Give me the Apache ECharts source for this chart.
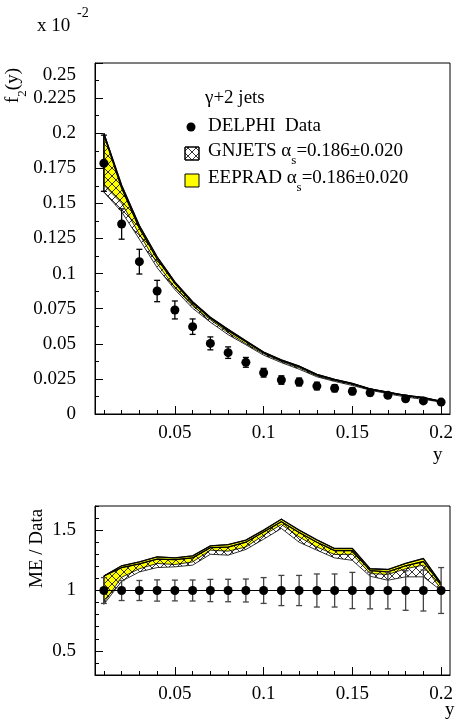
<!DOCTYPE html>
<html><head><meta charset="utf-8">
<script src="https://cdn.jsdelivr.net/npm/echarts@6/dist/echarts.min.js"></script>
<style>html,body{margin:0;padding:0;background:#fff}#c{width:456px;height:727px}</style>
</head><body><div id="c"></div>
<script>
// ---------- data ----------
const xs = [0.01,0.02,0.03,0.04,0.05,0.06,0.07,0.08,0.09,0.10,0.11,0.12,0.13,0.14,0.15,0.16,0.17,0.18,0.19,0.20];
// DELPHI data (units of 10^-2)
const dataVal = [0.1786,0.1353,0.1085,0.0876,0.0741,0.0622,0.0503,0.0437,0.0368,0.0294,0.0242,0.0228,0.0199,0.0183,0.0162,0.0152,0.0133,0.0109,0.0093,0.0085];
const dataErr = [0.0200,0.0108,0.0088,0.0076,0.0064,0.0055,0.0046,0.0041,0.0035,0.0031,0.0030,0.0028,0.0027,0.0025,0.0024,0.0023,0.0020,0.0018,0.0016,0.0016];
// EEPRAD band (top)
const eepradUp = [0.200,0.163,0.1342,0.1120,0.0941,0.0800,0.0689,0.0603,0.0521,0.0441,0.0385,0.0342,0.0283,0.0247,0.0218,0.0179,0.0156,0.0133,0.0118,0.0090];
const eepradLo = [0.163,0.1502,0.1280,0.1072,0.0900,0.0769,0.0671,0.0579,0.0500,0.0429,0.0374,0.0329,0.0271,0.0238,0.0211,0.0173,0.0151,0.0129,0.0113,0.0086];
// GNJETS band (top)
const gnjetsUp = [0.199,0.161,0.1324,0.1104,0.0930,0.0790,0.0682,0.0594,0.0515,0.0437,0.0380,0.0337,0.0279,0.0243,0.0215,0.0177,0.0154,0.0131,0.0115,0.0089];
const gnjetsLo = [0.158,0.1440,0.1245,0.1042,0.0886,0.0753,0.0654,0.0565,0.0493,0.0419,0.0366,0.0319,0.0265,0.0232,0.0203,0.0170,0.0144,0.0121,0.0104,0.0085];
// ratio panel
const ratioPts = [1,1,1,1,1,1,1,1,1,1,1,1,1,1,1,1,1,1,1,1];
const ratioErr = [0.107,0.083,0.083,0.088,0.086,0.087,0.092,0.093,0.095,0.107,0.125,0.125,0.137,0.137,0.150,0.152,0.152,0.164,0.170,0.190];
const rEepradUp = [1.12,1.205,1.237,1.279,1.27,1.287,1.37,1.38,1.417,1.50,1.591,1.50,1.42,1.348,1.348,1.18,1.174,1.224,1.265,1.06];
const rEepradLo = [0.90,1.11,1.18,1.224,1.215,1.237,1.334,1.326,1.36,1.458,1.547,1.444,1.36,1.298,1.30,1.14,1.133,1.18,1.21,1.01];
const rGnjetsUp = [1.12,1.19,1.22,1.26,1.255,1.27,1.355,1.36,1.40,1.485,1.57,1.48,1.40,1.33,1.33,1.165,1.155,1.205,1.24,1.05];
const rGnjetsLo = [0.885,1.077,1.154,1.19,1.196,1.21,1.30,1.293,1.34,1.425,1.514,1.40,1.334,1.27,1.25,1.118,1.085,1.113,1.113,1.0];
// ticks
const xMajorTicks = [0.05,0.1,0.15,0.2];
const xMinorTicks = [0.01,0.02,0.03,0.04,0.05,0.06,0.07,0.08,0.09,0.1,0.11,0.12,0.13,0.14,0.15,0.16,0.17,0.18,0.19,0.2];
const ratioMajorTicks = [0.5,1,1.5];
const ratioMinorTicks = [0.3,0.4,0.5,0.6,0.7,0.8,0.9,1.0,1.1,1.2,1.3,1.4,1.5,1.6,1.7];

// ---------- helpers ----------
const FONT = "'Liberation Serif','DejaVu Serif',serif";
function hatchCanvas(){
  const c = document.createElement('canvas'); c.width = 8; c.height = 8;
  const g = c.getContext('2d'); g.strokeStyle = '#000'; g.lineWidth = 0.8;
  g.beginPath(); g.moveTo(0,0); g.lineTo(8,8); g.moveTo(8,0); g.lineTo(0,8); g.stroke();
  return c;
}
const hatch = {image: hatchCanvas(), repeat: 'repeat'};

function band(xi, yi, up, lo, fill, z){
  return {
    type:'custom', xAxisIndex:xi, yAxisIndex:yi, data:[0], z:z, silent:true, clip:true,
    renderItem:function(params, api){
      const pts = [];
      for (let i=0;i<xs.length;i++) pts.push(api.coord([xs[i], up[i]]));
      for (let i=xs.length-1;i>=0;i--) pts.push(api.coord([xs[i], lo[i]]));
      const upLine = xs.map((x,i)=>api.coord([x, up[i]]));
      return {type:'group', children:[
        {type:'polygon', shape:{points:pts}, style:{fill:fill, stroke:'#000', lineWidth:0.8}},
        {type:'polyline', shape:{points:upLine}, style:{fill:null, stroke:'#000', lineWidth:1.3}}
      ]};
    }
  };
}
function errBars(xi, yi, vals, errs, color, z){
  return {
    type:'custom', xAxisIndex:xi, yAxisIndex:yi, z:z, silent:true, clip:true,
    data: xs.map((x,i)=>[x, vals[i], errs[i]]),
    renderItem:function(params, api){
      const x = api.value(0), v = api.value(1), e = api.value(2);
      const top = api.coord([x, v+e]), bot = api.coord([x, v-e]);
      const w = 3;
      return {type:'group', children:[
        {type:'line', shape:{x1:top[0],y1:top[1],x2:bot[0],y2:bot[1]}, style:{stroke:color, lineWidth:1.3}},
        {type:'line', shape:{x1:top[0]-w,y1:top[1],x2:top[0]+w,y2:top[1]}, style:{stroke:color, lineWidth:1.3}},
        {type:'line', shape:{x1:bot[0]-w,y1:bot[1],x2:bot[0]+w,y2:bot[1]}, style:{stroke:color, lineWidth:1.3}}
      ]};
    }
  };
}
const lbl = {color:'#000', fontFamily:FONT, fontSize:19};
function fmt(v){ return String(+(+v).toFixed(4)); }
const subRich = {
  a:{fontFamily:FONT, fontSize:19, lineHeight:22, verticalAlign:'top', color:'#000'},
  s:{fontFamily:FONT, fontSize:13, lineHeight:25, verticalAlign:'bottom', color:'#000'}
};

const XMIN = 0.005, XMAX = 0.205;
function xMain(grid){
  return {type:'value', gridIndex:grid, min:XMIN, max:XMAX, position:'bottom',
    axisLine:{show:true, onZero:false, lineStyle:{color:'#000', width:1}},
    axisTick:{show:true, inside:true, length:8, customValues:xMajorTicks, lineStyle:{color:'#000'}},
    axisLabel:Object.assign({show:true, margin:10, customValues:xMajorTicks, formatter:fmt}, lbl),
    splitLine:{show:false}};
}
function xMinor(grid){
  return {type:'value', gridIndex:grid, min:XMIN, max:XMAX, position:'bottom',
    axisLine:{show:false}, axisLabel:{show:false}, splitLine:{show:false},
    axisTick:{show:true, inside:true, length:4, customValues:xMinorTicks, lineStyle:{color:'#000'}}};
}

const chart = echarts.init(document.getElementById('c'), null, {renderer:'canvas'});
chart.setOption({
  animation:false,
  backgroundColor:'#fff',
  grid:[
    {left:95, top:63, width:359, height:351, show:true, borderColor:'#000', borderWidth:1, backgroundColor:'transparent'},
    {left:95, top:506, width:359, height:169, show:true, borderColor:'#000', borderWidth:1, backgroundColor:'transparent'}
  ],
  xAxis:[xMain(0), xMinor(0), xMain(1), xMinor(1)],
  yAxis:[
    {type:'value', gridIndex:0, min:0, max:0.25, interval:0.025,
      axisLine:{show:true, lineStyle:{color:'#000'}},
      axisTick:{show:true, inside:true, length:8, lineStyle:{color:'#000'}},
      minorTick:{show:true, splitNumber:2, length:4, lineStyle:{color:'#000'}},
      axisLabel:Object.assign({margin:19, formatter:function(v){
        const s = fmt(v); return v >= 0.2499 ? '{t|'+s+'}' : s; },
        rich:{t:{fontFamily:FONT, fontSize:19, color:'#000', padding:[24,0,0,0]}}}, lbl),
      splitLine:{show:false}, minorSplitLine:{show:false}},
    {type:'value', gridIndex:1, min:0.3, max:1.7,
      axisLine:{show:true, lineStyle:{color:'#000'}},
      axisTick:{show:true, inside:true, length:8, customValues:ratioMajorTicks, lineStyle:{color:'#000'}},
      axisLabel:Object.assign({margin:19, customValues:ratioMajorTicks, formatter:fmt}, lbl),
      splitLine:{show:false}},
    {type:'value', gridIndex:1, min:0.3, max:1.7, position:'left',
      axisLine:{show:false}, axisLabel:{show:false}, splitLine:{show:false},
      axisTick:{show:true, inside:true, length:4, customValues:ratioMinorTicks, lineStyle:{color:'#000'}}}
  ],
  series:[
    band(0,0,eepradUp,eepradLo,'#ffff00',2),
    band(0,0,gnjetsUp,gnjetsLo,hatch,3),
    errBars(0,0,dataVal,dataErr,'#000',4),
    {type:'scatter', xAxisIndex:0, yAxisIndex:0, z:5, symbol:'circle', symbolSize:9,
      itemStyle:{color:'#000', opacity:1}, data:xs.map((x,i)=>[x,dataVal[i]]), silent:true},
    band(2,1,rEepradUp,rEepradLo,'#ffff00',2),
    band(2,1,rGnjetsUp,rGnjetsLo,hatch,3),
    errBars(2,1,ratioPts,ratioErr,'#444',4),
    {type:'scatter', xAxisIndex:2, yAxisIndex:1, z:5, symbol:'circle', symbolSize:9,
      itemStyle:{color:'#000', opacity:1}, data:xs.map((x,i)=>[x,ratioPts[i]]), silent:true,
      markLine:{silent:true, symbol:'none', label:{show:false}, lineStyle:{color:'#000', width:1, type:'solid', opacity:1},
        data:[{yAxis:1}]}}
  ],
  graphic:[
    {type:'text', left:37, top:17, style:{text:'x 10', font:"19px "+FONT, fill:'#000'}},
    {type:'text', left:77, top:6, style:{text:'-2', font:"14px "+FONT, fill:'#000'}},
    {type:'text', x:4, y:103, rotation:Math.PI/2, originX:0, originY:0,
      style:{text:'{a|f}{s|2}{a|(y)}', rich:subRich}},
    {type:'text', x:28, y:588, rotation:Math.PI/2, originX:0, originY:0,
      style:{text:'ME / Data', font:"19px "+FONT, fill:'#000'}},
    {type:'text', left:433, top:446, style:{text:'y', font:"19px "+FONT, fill:'#000'}},
    {type:'text', left:445, top:701, style:{text:'y', font:"19px "+FONT, fill:'#000'}},
    // legend
    {type:'text', left:205, top:89, style:{text:'γ+2 jets', font:"19px "+FONT, fill:'#000'}},
    {type:'circle', shape:{cx:191, cy:127, r:4.5}, style:{fill:'#000'}},
    {type:'text', left:208, top:117, style:{text:'DELPHI  Data', font:"19px "+FONT, fill:'#000'}},
    {type:'rect', shape:{x:185, y:147, width:14, height:13}, style:{fill:'#fff', stroke:'#000', lineWidth:1}},
    {type:'rect', shape:{x:185, y:147, width:14, height:13}, style:{fill:hatch, stroke:'#000', lineWidth:1}},
    {type:'text', x:208, y:142, style:{text:'{a|GNJETS α}{s|s}{a|=0.186±0.020}', rich:subRich}},
    {type:'rect', shape:{x:185, y:174, width:14, height:13}, style:{fill:'#ffff00', stroke:'#000', lineWidth:1}},
    {type:'text', x:208, y:169, style:{text:'{a|EEPRAD α}{s|s}{a|=0.186±0.020}', rich:subRich}}
  ]
});
</script></body></html>
